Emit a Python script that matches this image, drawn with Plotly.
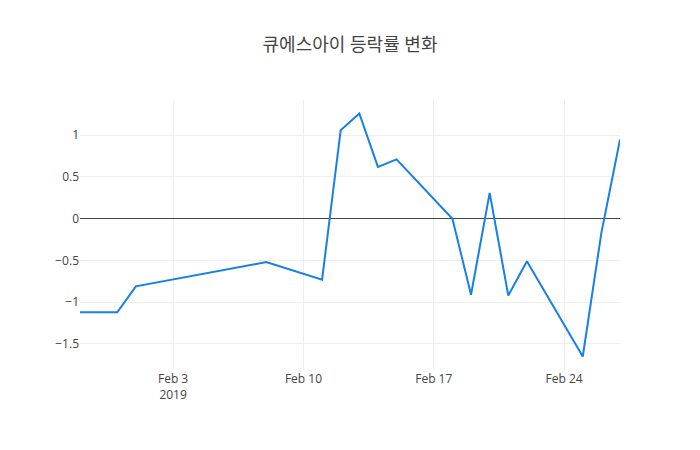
import plotly.graph_objects as go

dates = ["2019-01-29", "2019-01-31", "2019-02-01", "2019-02-08", "2019-02-11",
         "2019-02-12", "2019-02-13", "2019-02-14", "2019-02-15", "2019-02-18",
         "2019-02-19", "2019-02-20", "2019-02-21", "2019-02-22", "2019-02-25",
         "2019-02-26", "2019-02-27"]
change_rate = [-1.12, -1.12, -0.81, -0.52, -0.73,
               1.06, 1.26, 0.62, 0.71, 0.0,
               -0.91, 0.31, -0.92, -0.51, -1.65,
               -0.17, 0.95]

fig = go.Figure(
    go.Scatter(x=dates, y=change_rate, mode="lines",
               line=dict(color="rgb(22,128,232)", width=2))
)
fig.update_layout(
    template="none",
    width=700, height=450,
    title=dict(text="큐에스아이 등락률 변화", x=0.4886, xanchor="center",
               y=0.918, yanchor="middle",
               font=dict(size=18, color="#444")),
    font=dict(family="Open Sans, Noto Sans CJK KR, sans-serif", color="#444", size=12),
    paper_bgcolor="white", plot_bgcolor="white",
    margin=dict(l=72, r=88, t=92, b=88),
    showlegend=False,
)
fig.update_xaxes(showgrid=True, gridcolor="#eee", zeroline=False, showline=False,
                 ticks="", tickfont=dict(color="#444"))
fig.update_yaxes(showgrid=True, gridcolor="#eee", zeroline=True, zerolinecolor="#444",
                 zerolinewidth=1, showline=False, ticks="", tickfont=dict(color="#444"))
fig.write_html("out.html")
